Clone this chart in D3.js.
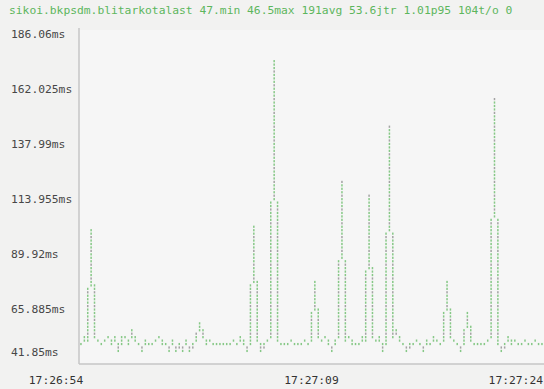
<!DOCTYPE html>
<html>
<head>
<meta charset="utf-8">
<script src="https://cdn.jsdelivr.net/npm/d3@7"></script>
<style>
body { margin: 0; background: #f4f4f4; overflow: hidden; }
svg { display: block; }
text { font-family: "DejaVu Sans Mono", monospace; font-size: 11.3px; }
</style>
</head>
<body>
<svg id="chart"></svg>
<script>
const title = "sikoi.bkpsdm.blitarkotalast 47.min 46.5max 191avg 53.6jtr 1.01p95 104t/o 0"

const yTicks = [186.06, 162.025, 137.99, 113.955, 89.92, 65.885, 41.85]
const yTickLabels = ["186.06ms", "162.025ms", "137.99ms", "113.955ms", "89.92ms", "65.885ms", "41.85ms"]
const xTickLabels = ["17:26:54", "17:27:09", "17:27:24"]

// one ping every 0.2s, latency in ms
const pingMs = [
    51, 53, 52, 100, 53, 52, 50, 52, 54, 51,
    53, 47.5, 53, 54, 50, 56, 52, 51, 47.5, 52,
    50, 51, 52, 53, 51, 50, 47.5, 52, 47.5, 51,
    47.5, 52, 47.5, 51, 52, 59, 53, 50, 52, 51,
    50, 51, 50, 51, 50, 52, 51, 53, 52, 47.5,
    52, 102, 54, 47.5, 51, 52, 53, 174, 52, 50,
    51, 50, 52, 50, 51, 50, 52, 51, 53, 78,
    53, 52, 54, 51, 47.5, 52, 53, 121, 52, 53,
    51, 50, 51, 53, 52, 115, 53, 52, 53, 47.5,
    53, 145, 54, 56, 52, 51, 47.5, 51, 50, 52,
    51, 47.5, 52, 51, 53, 52, 51, 52, 77, 53,
    52, 51, 47.5, 52, 64, 52, 50, 51, 50, 51,
    52, 53, 158, 52, 47.5, 51, 53, 50, 52, 51,
    50, 52, 51, 50, 52, 51, 50
]
const sampleStep = 0.2

let width = 544
let height = 389
let plotLeft = 79
let plotRight = 544
let plotTop = 30
let plotBottom = 364

let svg = d3.select('#chart')
    .attr('width', width)
    .attr('height', height)

svg.append('rect')
    .attr('width', width)
    .attr('height', height)
    .attr('fill', '#f2f2f1')
svg.append('rect')
    .attr('x', plotLeft)
    .attr('y', plotTop)
    .attr('width', plotRight - plotLeft)
    .attr('height', plotBottom - plotTop)
    .attr('fill', '#f6f6f6')

let x = d3.scaleLinear()
    .domain([0, (pingMs.length - 1) * sampleStep])
    .range([plotLeft + 2, plotRight - 2])
let y = d3.scaleLinear()
    .domain([yTicks[yTicks.length - 1], yTicks[0]])
    .range([plotBottom, 34])

// title line
svg.append('text')
    .attr('x', 9)
    .attr('y', 10)
    .attr('dy', '0.35em')
    .attr('fill', '#5db65d')
    .text(title)

// axes frame
svg.append('line')
    .attr('x1', plotLeft).attr('x2', plotLeft)
    .attr('y1', plotTop - 2).attr('y2', plotBottom)
    .attr('stroke', '#c6c6c6').attr('stroke-width', 1.5)
svg.append('line')
    .attr('x1', plotLeft).attr('x2', plotRight)
    .attr('y1', plotBottom).attr('y2', plotBottom)
    .attr('stroke', '#c6c6c6').attr('stroke-width', 1.5)

// y labels, bottom one sits one row above the frame like in the terminal
svg.append('g').selectAll('text')
    .data(yTicks)
    .join('text')
    .attr('x', 11)
    .attr('y', d => Math.min(y(d), plotBottom - 12))
    .attr('dy', '0.35em')
    .attr('fill', '#474747')
    .text((d, i) => yTickLabels[i])

// x labels: left, centre, right
let xLabelX = [56, (plotLeft + plotRight) / 2, plotRight - 1]
let xLabelAnchor = ['middle', 'middle', 'end']
svg.append('g').selectAll('text')
    .data(xTickLabels)
    .join('text')
    .attr('x', (d, i) => xLabelX[i])
    .attr('y', 380)
    .attr('dy', '0.35em')
    .attr('text-anchor', (d, i) => xLabelAnchor[i])
    .attr('fill', '#333')
    .text(d => d)

// braille-ish dot raster of the ping line
let dy = 3.45
let rows = pingMs.map(v => Math.round((y(v) - plotTop) / dy))
let dots = new Map()
function plotDot(c, r) { dots.set(c + ',' + r, [c, r]) }
for (let i = 0; i < pingMs.length - 1; i++) {
    let x0 = i, y0 = rows[i], x1 = i + 1, y1 = rows[i + 1]
    let ddx = Math.abs(x1 - x0), ddy = -Math.abs(y1 - y0)
    let sx = x0 < x1 ? 1 : -1, sy = y0 < y1 ? 1 : -1
    let err = ddx + ddy
    while (true) {
        plotDot(x0, y0)
        if (x0 === x1 && y0 === y1) break
        let e2 = 2 * err
        if (e2 >= ddy) { err += ddy; x0 += sx }
        if (e2 <= ddx) { err += ddx; y0 += sy }
    }
}

svg.append('g').attr('class', 'dots')
    .selectAll('rect')
    .data(Array.from(dots.values()))
    .join('rect')
    .attr('x', d => x(d[0] * sampleStep) - 0.8)
    .attr('y', d => plotTop + d[1] * dy - 1)
    .attr('width', 1.5)
    .attr('height', 2.2)
    .attr('fill', d => d[1] % 4 === 0 ? '#a3a3a3' : '#86c886')
</script>
</body>
</html>
